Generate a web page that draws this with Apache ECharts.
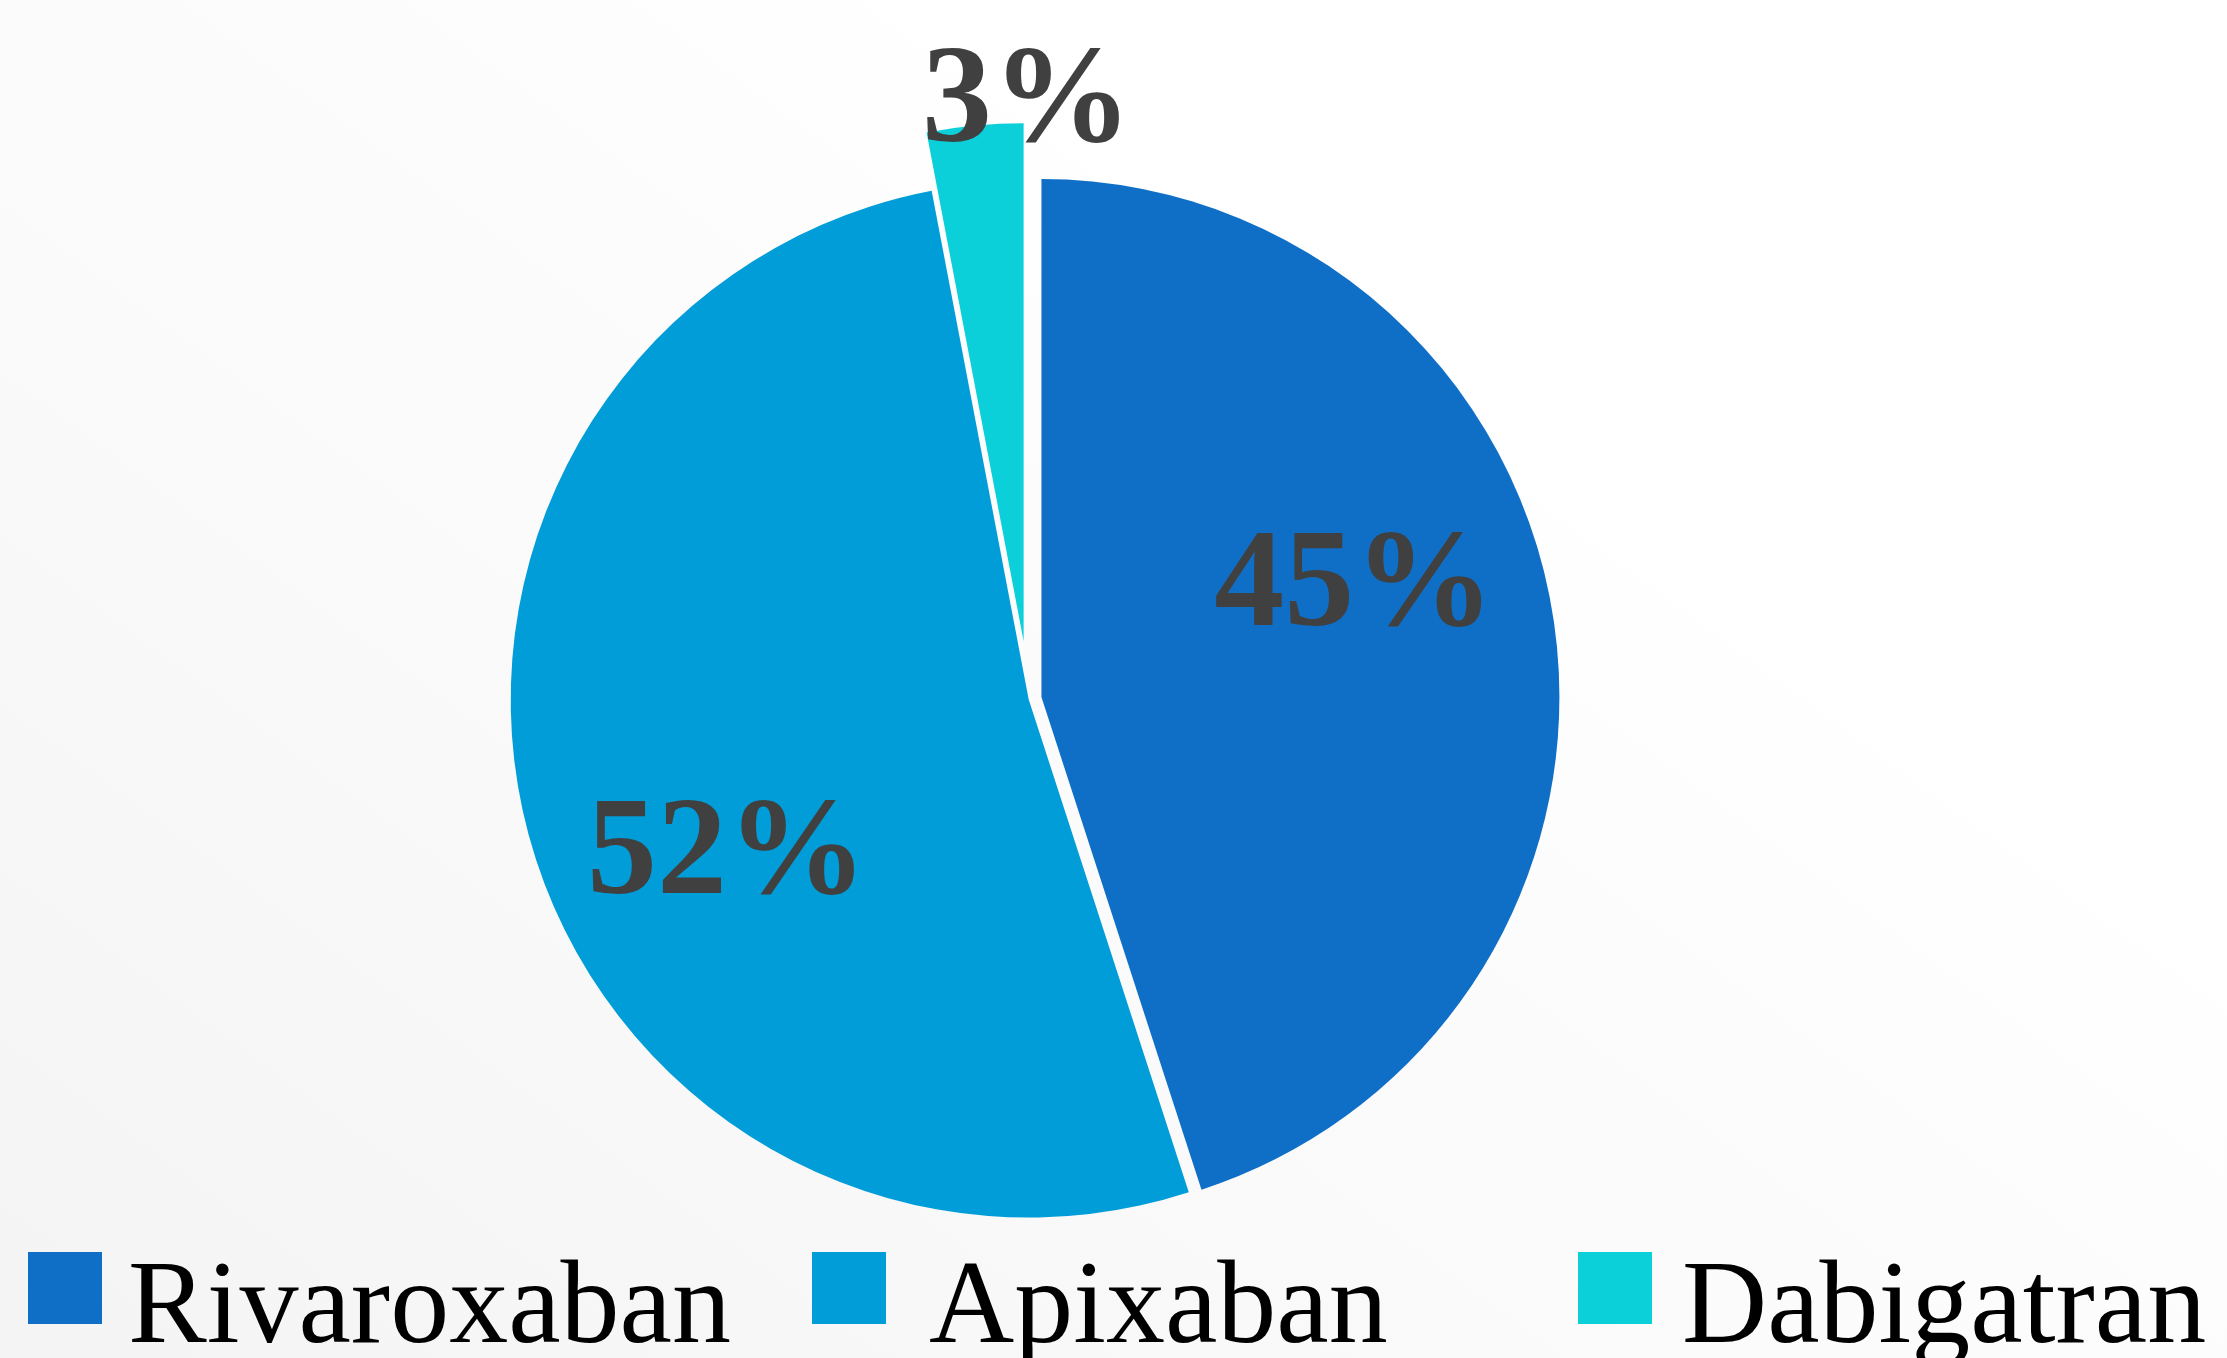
<!DOCTYPE html>
<html>
<head>
<meta charset="utf-8">
<script src="https://cdn.jsdelivr.net/npm/echarts@6/dist/echarts.min.js"></script>
<style>
  html, body { margin: 0; padding: 0; background: #ffffff; }
  #chart { width: 2227px; height: 1358px; }
</style>
</head>
<body>
<div id="chart"></div>
<script>
// ---- data ----
const categories = ['Rivaroxaban', 'Apixaban', 'Dabigatran'];
const values = [45, 52, 3];

// ---- styling / layout ----
const colors = ['#0F6FC6', '#009DD9', '#0BD0D9'];
const pieCenter = [1035, 698];
const pieRadius = 518;
const explode = [6.5, 6.5, 57];
const centerShiftX = [0, 0, -6];
const labelShift = [[54, -67], [-48, 92], [28, -276]];
const legendLeft = [28, 812, 1578];
const legendTextPadLeft = [21, 38, 25];

const chart = echarts.init(document.getElementById('chart'), null, { renderer: 'canvas' });

const series = categories.map((cat, i) => ({
  type: 'pie',
  name: cat,
  center: [pieCenter[0] + centerShiftX[i], pieCenter[1]],
  radius: pieRadius,
  startAngle: 90,
  clockwise: true,
  selectedMode: 'multiple',
  selectedOffset: explode[i],
  silent: true,
  animation: false,
  emphasis: { scale: false, disabled: true },
  labelLine: { show: false },
  labelLayout: { dx: labelShift[i][0], dy: labelShift[i][1] },
  data: categories.map((n, j) => ({
    name: n,
    value: values[j],
    selected: j === i,
    itemStyle: j === i ? { color: colors[j], borderWidth: 0 } : { color: 'rgba(0,0,0,0)', borderWidth: 0 },
    select: j === i ? { itemStyle: { color: colors[j] } } : { itemStyle: { color: 'rgba(0,0,0,0)' } },
    label: {
      show: j === i,
      position: 'inside',
      formatter: '{c}%',
      fontFamily: 'Liberation Serif',
      fontWeight: 'bold',
      fontSize: 140,
      color: '#404040'
    }
  }))
}));

const legends = categories.map((n, i) => ({
  left: legendLeft[i],
  top: 1206,
  padding: 0,
  orient: 'horizontal',
  icon: 'rect',
  itemWidth: 74,
  itemHeight: 72,
  selectedMode: false,
  formatter: '{t|{name}}',
  textStyle: {
    fontFamily: 'Liberation Serif',
    fontSize: 118,
    color: '#000000',
    rich: {
      t: {
        fontFamily: 'Liberation Serif',
        fontSize: 118,
        lineHeight: 120,
        color: '#000000',
        padding: [46, 0, 0, legendTextPadLeft[i]]
      }
    }
  },
  data: [{ name: n, itemStyle: { color: colors[i], opacity: 1 } }]
}));

const option = {
  backgroundColor: {
    type: 'linear', x: 0, y: 1, x2: 0.45, y2: 0,
    colorStops: [
      { offset: 0, color: '#f4f4f4' },
      { offset: 1, color: '#ffffff' }
    ]
  },
  animation: false,
  legend: legends,
  series: series
};

chart.setOption(option);
</script>
</body>
</html>
